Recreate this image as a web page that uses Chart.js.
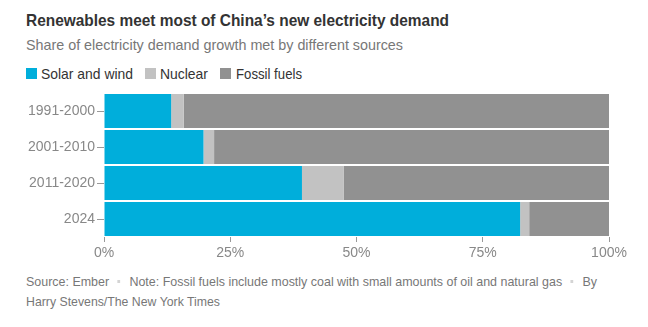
<!DOCTYPE html>
<html>
<head>
<meta charset="utf-8">
<script src="https://cdn.jsdelivr.net/npm/chart.js@4/dist/chart.umd.min.js"></script>
<style>
  html, body { margin: 0; padding: 0; background: #fff; }
  body { width: 648px; height: 327px; position: relative; overflow: hidden; font-family: "Liberation Sans", Arial, sans-serif; }
  .txt { position: absolute; white-space: nowrap; line-height: 20px; transform-origin: left center; }
  .title { left: 26px; top: 10px; font-size: 16.5px; font-weight: bold; color: #333; }
  .sub { left: 26px; top: 35px; font-size: 15px; color: #777; }
  .lg { top: 64px; font-size: 15px; color: #333; }
  .sw { position: absolute; top: 68px; width: 11px; height: 11px; }
  .foot { left: 26px; font-size: 13.5px; color: #777; }
  .foot .dot { display: inline-block; width: 3px; height: 3px; background: #d4d4d4; vertical-align: 3px; margin: 0 10px 0 9px; }
  .wrap { position: absolute; left: 0; top: 85px; width: 648px; height: 180px; }
</style>
</head>
<body>
<span class="txt title" data-w="423">Renewables meet most of China’s new electricity demand</span>
<span class="txt sub" data-w="377">Share of electricity demand growth met by different sources</span>
<div id="legend"></div>
<div class="wrap"><canvas id="myChart" width="648" height="180"></canvas></div>
<span class="txt foot" style="top:272px" data-w="571">Source: Ember<span class="dot"></span>Note: Fossil fuels include mostly coal with small amounts of oil and natural gas<span class="dot"></span>By</span>
<span class="txt foot" style="top:292px" data-w="194">Harry Stevens/The New York Times</span>

<script>
const periods = ['1991-2000', '2001-2010', '2011-2020', '2024'];
const solarWind = [13.3, 19.7, 39.2, 82.4];
const nuclear = [2.5, 2.1, 8.3, 1.8];
const fossil = [84.2, 78.2, 52.5, 15.8];
const xTicks = [0, 25, 50, 75, 100];

const COLORS = {
  solar: '#00aedb',
  nuclear: '#c2c2c2',
  fossil: '#919191'
};

const series = [
  { label: 'Solar and wind', data: solarWind, color: COLORS.solar },
  { label: 'Nuclear', data: nuclear, color: COLORS.nuclear },
  { label: 'Fossil fuels', data: fossil, color: COLORS.fossil }
];

// legend layout: swatch x, label x, label width
const legendPos = [[26, 41, 92], [145, 160, 48], [220, 236, 66]];
document.getElementById('legend').innerHTML = series.map((s, i) =>
  '<span class="sw" style="left:' + legendPos[i][0] + 'px;background:' + s.color + '"></span>' +
  '<span class="txt lg" style="left:' + legendPos[i][1] + 'px" data-w="' + legendPos[i][2] + '">' + s.label + '</span>'
).join('');

// squeeze text to the narrower newsroom face
document.querySelectorAll('[data-w]').forEach(el => {
  const w = el.getBoundingClientRect().width;
  el.style.transform = 'scaleX(' + (el.dataset.w / w) + ')';
});

const tickFont = { family: '"Liberation Sans", Arial, sans-serif', size: 14 };

const config = {
  type: 'bar',
  data: {
    labels: periods,
    datasets: series.map(s => ({
      label: s.label,
      data: s.data,
      backgroundColor: s.color,
      borderWidth: 0,
      barPercentage: 0.945,
      categoryPercentage: 1
    }))
  },
  options: {
    indexAxis: 'y',
    responsive: false,
    animation: false,
    layout: { padding: { top: 8, right: 39, left: 0, bottom: 0 } },
    plugins: {
      legend: { display: false },
      tooltip: { enabled: false }
    },
    scales: {
      x: {
        stacked: true,
        min: 0,
        max: 100,
        afterBuildTicks: axis => { axis.ticks = xTicks.map(v => ({ value: v })); },
        afterFit: axis => { axis.height = 28; },
        border: { display: false },
        grid: { drawOnChartArea: false, drawTicks: true, tickLength: 5, color: '#999' },
        ticks: { color: '#888', font: tickFont, padding: 3, maxRotation: 0, callback: v => v + '%' }
      },
      y: {
        stacked: true,
        afterFit: axis => { axis.width = 104; axis.paddingTop = 0; axis.paddingBottom = 0; },
        border: { display: false },
        grid: { offset: false, drawOnChartArea: false, drawTicks: true, tickLength: 7, color: '#999' },
        ticks: { color: '#888', font: tickFont, padding: 2 }
      }
    }
  }
};

const myChart = new Chart(document.getElementById('myChart'), config);
</script>
</body>
</html>
